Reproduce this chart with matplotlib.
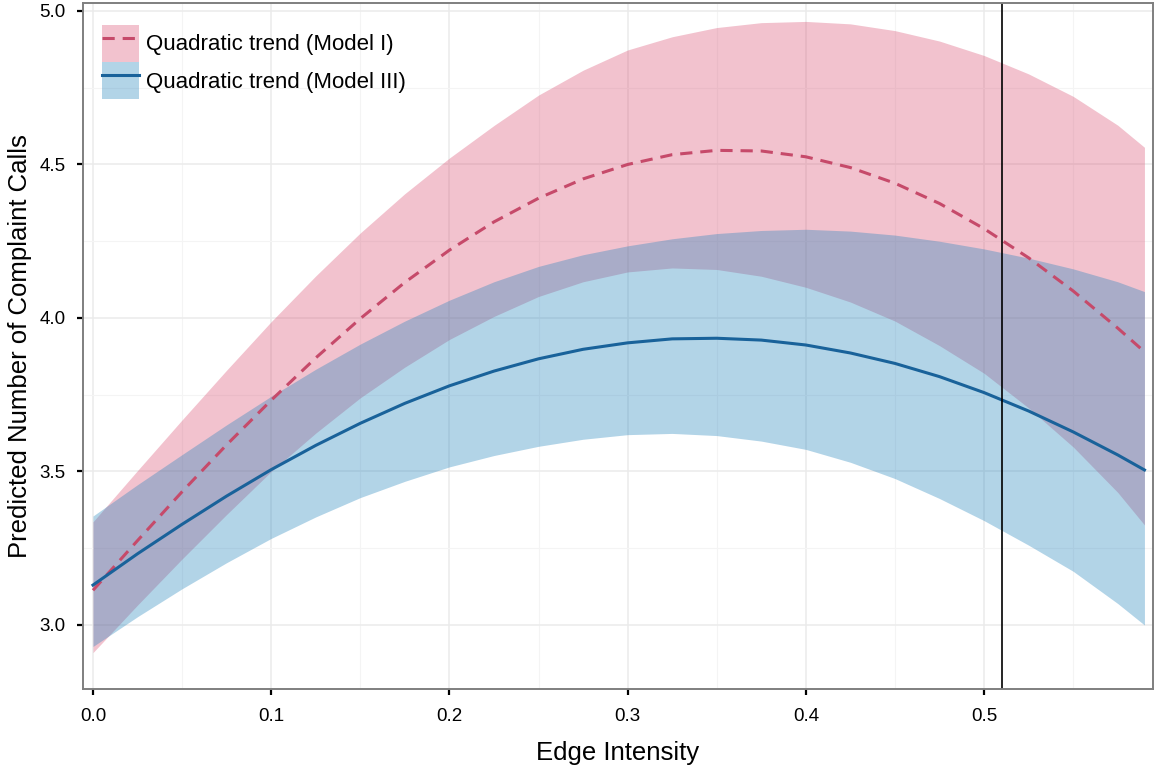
import matplotlib
matplotlib.use("Agg")
import matplotlib.pyplot as plt
from matplotlib.patches import Patch
from matplotlib.lines import Line2D
from matplotlib.ticker import MultipleLocator, FormatStrFormatter

plt.rcParams['font.family'] = ['Liberation Sans', 'DejaVu Sans']

# edge intensity grid
x = [0.0, 0.025, 0.05, 0.075, 0.1, 0.125, 0.15, 0.175, 0.2, 0.225, 0.25, 0.275,
     0.3, 0.325, 0.35, 0.375, 0.4, 0.425, 0.45, 0.475, 0.5, 0.525, 0.55, 0.575, 0.59]

# Model I: fitted values and 95% band
m1_fit = [3.113, 3.275, 3.434, 3.587, 3.732, 3.870, 3.998, 4.116, 4.221, 4.313, 4.390, 4.453,
          4.500, 4.532, 4.546, 4.544, 4.525, 4.490, 4.439, 4.373, 4.291, 4.196, 4.088, 3.967, 3.890]
m1_hi = [3.336, 3.503, 3.668, 3.830, 3.988, 4.137, 4.277, 4.405, 4.521, 4.627, 4.726, 4.807,
         4.873, 4.916, 4.946, 4.962, 4.966, 4.958, 4.936, 4.902, 4.855, 4.795, 4.722, 4.628, 4.556]
m1_lo = [2.910, 3.065, 3.215, 3.360, 3.500, 3.625, 3.740, 3.840, 3.930, 4.005, 4.070, 4.118,
         4.150, 4.163, 4.158, 4.136, 4.100, 4.052, 3.990, 3.910, 3.820, 3.707, 3.580, 3.432, 3.326]

# Model III: fitted values and 95% band
m3_fit = [3.130, 3.232, 3.328, 3.420, 3.506, 3.585, 3.657, 3.722, 3.779, 3.827, 3.867, 3.898,
          3.919, 3.932, 3.934, 3.928, 3.912, 3.886, 3.852, 3.809, 3.757, 3.697, 3.629, 3.554, 3.505]
m3_hi = [3.355, 3.457, 3.555, 3.652, 3.745, 3.833, 3.915, 3.990, 4.058, 4.118, 4.168, 4.206,
         4.235, 4.258, 4.275, 4.285, 4.289, 4.283, 4.270, 4.250, 4.225, 4.195, 4.160, 4.118, 4.086]
m3_lo = [2.930, 3.027, 3.118, 3.203, 3.282, 3.352, 3.415, 3.468, 3.515, 3.552, 3.582, 3.605,
         3.620, 3.624, 3.617, 3.599, 3.572, 3.530, 3.477, 3.412, 3.340, 3.260, 3.175, 3.070, 3.000]

cutoff = 0.51

labels = ['Quadratic trend (Model I)', 'Quadratic trend (Model III)']

red_line = '#C64A6A'
red_fill = '#DA5173'
blue_line = '#19629A'
blue_fill = '#2384BD'
band_alpha = 0.35
dash = (4.0, 2.6)

W, H = 1154, 773
fig = plt.figure(figsize=(W / 100, H / 100), dpi=100)
ax = fig.add_axes([83 / W, (H - 689) / H, 1070 / W, 686 / H])

# bands
ax.fill_between(x, m1_lo, m1_hi, color=red_fill, alpha=band_alpha, lw=0)
ax.fill_between(x, m3_lo, m3_hi, color=blue_fill, alpha=band_alpha, lw=0)

# fitted lines
ax.plot(x, m1_fit, color=red_line, lw=2.2, dashes=dash)
ax.plot(x, m3_fit, color=blue_line, lw=2.2)

ax.axvline(cutoff, color='black', lw=1.2)

# axes styling (theme_bw look)
ax.set_xlim(-0.0056, 0.5948)
ax.set_ylim(2.7915, 5.026)
ax.xaxis.set_major_locator(MultipleLocator(0.1))
ax.xaxis.set_minor_locator(MultipleLocator(0.05))
ax.yaxis.set_major_locator(MultipleLocator(0.5))
ax.yaxis.set_minor_locator(MultipleLocator(0.25))
ax.xaxis.set_major_formatter(FormatStrFormatter('%.1f'))
ax.yaxis.set_major_formatter(FormatStrFormatter('%.1f'))

ax.set_axisbelow(True)
ax.grid(True, which='major', color='#EBEBEB', lw=1.1)
ax.grid(True, which='minor', color='#F4F4F4', lw=0.8)
ax.tick_params(which='major', length=4.5, width=1.6, color='black', labelsize=13.5)
ax.tick_params(axis='x', which='major', pad=9)
ax.tick_params(axis='y', which='major', pad=8)
ax.tick_params(which='minor', length=0)
for s in ax.spines.values():
    s.set_color('#7F7F7F')
    s.set_linewidth(1.4)

ax.set_xlabel('Edge Intensity', fontsize=18.5, labelpad=12)
ax.set_ylabel('Predicted Number of Complaint Calls', fontsize=18.5, labelpad=5)

# legend: filled key with the line on top
handles = [
    (Patch(facecolor=red_fill, alpha=band_alpha, lw=0),
     Line2D([], [], color=red_line, lw=2.2, dashes=dash)),
    (Patch(facecolor=blue_fill, alpha=band_alpha, lw=0),
     Line2D([], [], color=blue_line, lw=2.2)),
]
ax.legend(handles, labels, loc='upper left', frameon=False, fontsize=16,
          bbox_to_anchor=(19 / 1070, 1 - 22 / 686), borderaxespad=0, borderpad=0,
          handlelength=1.67, handleheight=2.19, labelspacing=0, handletextpad=0.3)

fig.savefig('out.png', dpi=100)
